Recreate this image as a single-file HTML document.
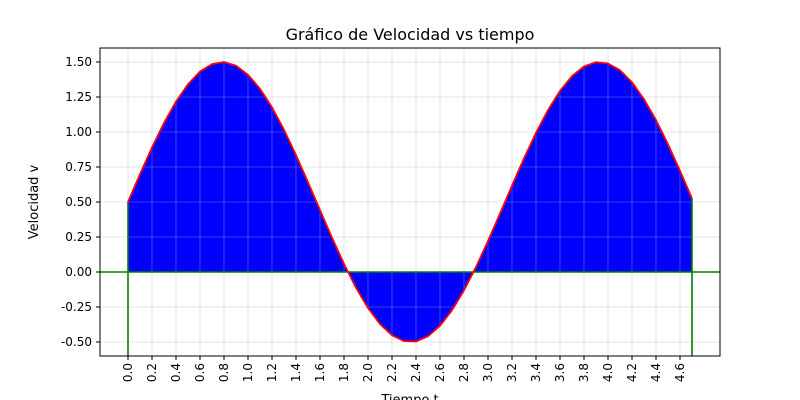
<!DOCTYPE html>
<html><head><meta charset="utf-8"><style>
body{margin:0;background:#fff;}
svg{display:block;font-family:"DejaVu Sans","Liberation Sans",sans-serif;}
</style></head><body>
<svg id="chart" width="800" height="400">
<text x="410" y="40" font-size="16" text-anchor="middle">Gráfico de Velocidad vs tiempo</text>
<g id="fill"></g><g id="grid"></g><g id="lines"></g><g id="ticks"></g>
<rect x="100" y="48" width="620" height="308" fill="none" stroke="#000" stroke-width="1"/>
<text x="410" y="404" font-size="13" text-anchor="middle">Tiempo t</text>
<text transform="translate(38,202) rotate(-90)" font-size="13" text-anchor="middle">Velocidad v</text>
</svg>
<script>
const times=[0,0.1,0.2,0.3,0.4,0.5,0.6,0.7,0.8,0.9,1.0,1.1,1.2,1.3,1.4,1.5,1.6,1.7,1.8,1.9,2.0,2.1,2.2,2.3,2.4,2.5,2.6,2.7,2.8,2.9,3.0,3.1,3.2,3.3,3.4,3.5,3.6,3.7,3.8,3.9,4.0,4.1,4.2,4.3,4.4,4.5,4.6,4.7];
const velocity=[0.5,0.699,0.889,1.065,1.217,1.341,1.432,1.485,1.5,1.474,1.409,1.309,1.176,1.016,0.835,0.641,0.442,0.245,0.058,-0.112,-0.257,-0.372,-0.452,-0.494,-0.496,-0.459,-0.384,-0.273,-0.131,0.035,0.221,0.417,0.617,0.812,0.994,1.157,1.294,1.399,1.468,1.499,1.489,1.441,1.355,1.234,1.085,0.912,0.723,0.525];
const xTicks=[0,0.2,0.4,0.6,0.8,1.0,1.2,1.4,1.6,1.8,2.0,2.2,2.4,2.6,2.8,3.0,3.2,3.4,3.6,3.8,4.0,4.2,4.4,4.6];
const yTicks=[-0.5,-0.25,0,0.25,0.5,0.75,1.0,1.25,1.5];
const NS="http://www.w3.org/2000/svg";
const X=t=>128+t*120, Y=v=>272-v*140;
function mk(tag,attrs,parent){const e=document.createElementNS(NS,tag);for(const k in attrs)e.setAttribute(k,attrs[k]);document.getElementById(parent).appendChild(e);return e;}
xTicks.forEach(t=>{
 const g=mk('line',{x1:X(t),x2:X(t),y1:48,y2:356,stroke:'#b0b0b0','stroke-opacity':0.45,'stroke-width':0.8},'grid');
 
 
 const tk=mk('line',{x1:X(t),x2:X(t),y1:356,y2:360,stroke:'#000'},'ticks');
 
 
 const lb=mk('text',{transform:`translate(${X(t)+4},363) rotate(-90)`,'font-size':12,'text-anchor':'end'},'ticks');
 lb.textContent=t.toFixed(1);
 
 
});
yTicks.forEach(v=>{
 const g=mk('line',{x1:100,x2:720,y1:Y(v),y2:Y(v),stroke:'#b0b0b0','stroke-opacity':0.45,'stroke-width':0.8},'grid');
 
 
 const tk=mk('line',{x1:96,x2:100,y1:Y(v),y2:Y(v),stroke:'#000'},'ticks');
 
 
 const lb=mk('text',{x:92,y:Y(v)+4,'font-size':12,'text-anchor':'end'},'ticks');
 lb.textContent=v.toFixed(2);
 
 
});
const pts=times.map((t,i)=>X(t)+','+Y(velocity[i])).join(' ');
const n=times.length-1;
const area=mk('polygon',{points:X(times[0])+','+Y(0)+' '+pts+' '+X(times[n])+','+Y(0),fill:'#0000ff'},'fill');


const z=mk('line',{x1:100,x2:720,y1:Y(0),y2:Y(0),stroke:'green','stroke-width':1.6},'lines');


[0,n].forEach(i=>{
 const v=mk('line',{x1:X(times[i]),x2:X(times[i]),y1:356,y2:Y(velocity[i]),stroke:'green','stroke-width':1.6},'lines');
 
 
});
const c=mk('polyline',{points:pts,fill:'none',stroke:'red','stroke-width':1.8},'lines');


</script>
</body></html>
